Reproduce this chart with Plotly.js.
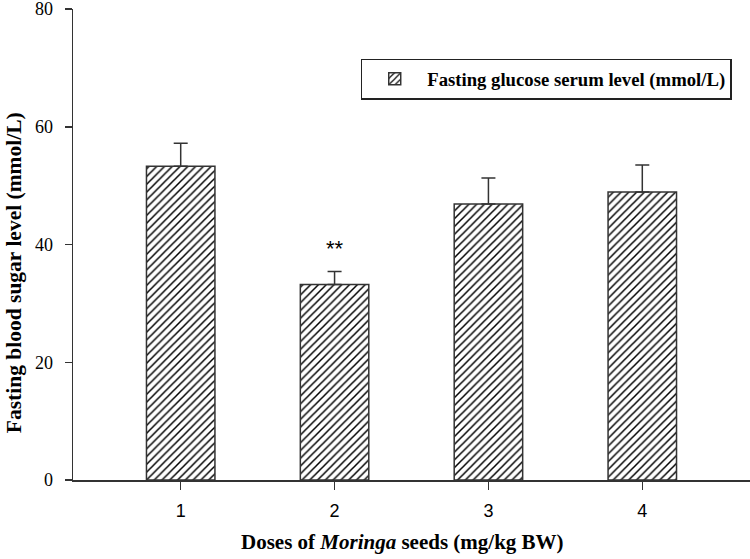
<!DOCTYPE html>
<html>
<head>
<meta charset="utf-8">
<script src="https://cdn.plot.ly/plotly-3.0.1.min.js"></script>
<style>html,body{margin:0;padding:0;background:#fff;}#chart{width:750px;height:559px;}</style>
</head>
<body>
<div id="chart"></div>
<script>
const doses = [1, 2, 3, 4];
const glucose = [53.3, 33.2, 46.9, 48.9];
const glucoseErr = [3.9, 2.2, 4.4, 4.6];
const seriesName = "Fasting glucose serum level (mmol/L)";
const tickLabels = ["1", "2", "3", "4"];
const yTicks = [0, 20, 40, 60, 80];
const sigLabel = "**";
const sigDose = 2;

const serif = "Liberation Serif, Times New Roman, serif";
const sans = "Liberation Sans, Arial, sans-serif";

const trace = {
  type: "bar",
  x: doses,
  y: glucose,
  name: seriesName,
  width: 0.445,
  marker: {
    color: "#c8c8c8",
    line: {color: "#333333", width: 1.5},
    pattern: {shape: "/", fgcolor: "#000000", size: 5.5, solidity: 0.27}
  },
  error_y: {
    type: "data",
    symmetric: false,
    array: glucoseErr,
    arrayminus: glucoseErr.map(() => 0),
    color: "#333333",
    thickness: 1.5,
    width: 7
  },
  showlegend: true
};

const layout = {
  width: 750,
  height: 559,
  margin: {l: 73, r: 0, t: 9, b: 79},
  paper_bgcolor: "#ffffff",
  plot_bgcolor: "#ffffff",
  showlegend: true,
  xaxis: {
    range: [0.3, 4.7],
    tickvals: doses,
    ticktext: tickLabels,
    showgrid: false,
    zeroline: false,
    showline: true,
    linecolor: "#333333",
    linewidth: 1.5,
    ticks: "outside",
    ticklen: 8,
    tickwidth: 1.5,
    tickcolor: "#333333",
    ticklabelstandoff: 6,
    tickfont: {family: sans, size: 18, color: "#000"},
    fixedrange: true
  },
  yaxis: {
    range: [0, 80],
    tickvals: yTicks,
    showgrid: false,
    zeroline: false,
    showline: true,
    linecolor: "#333333",
    linewidth: 1.5,
    ticks: "outside",
    ticklen: 7,
    tickwidth: 1.5,
    tickcolor: "#333333",
    ticklabelstandoff: 8,
    ticklabeloverflow: "allow",
    tickfont: {family: serif, size: 18, color: "#000"},
    fixedrange: true
  },
  legend: {
    x: 0.425,
    y: 0.8945,
    xanchor: "left",
    yanchor: "top",
    bgcolor: "#ffffff",
    bordercolor: "#222222",
    borderwidth: 1.5,
    itemwidth: 55,
    font: {family: serif, size: 18.7, color: "#000", weight: "bold"}
  },
  annotations: [
    {
      text: sigLabel,
      x: sigDose,
      y: glucose[sigDose - 1] + glucoseErr[sigDose - 1] + 4,
      xref: "x", yref: "y",
      showarrow: false,
      font: {family: sans, size: 22, color: "#000"}
    },
    {
      text: "<b>Fasting blood sugar level (mmol/L)</b>",
      x: -0.088, y: 0.44,
      xref: "paper", yref: "paper",
      xanchor: "center", yanchor: "middle",
      textangle: -90,
      showarrow: false,
      font: {family: serif, size: 21.5, color: "#000"}
    },
    {
      text: "<b>Doses of <i>Moringa</i> seeds (mg/kg BW)</b>",
      x: 0.486, y: -0.131,
      xref: "paper", yref: "paper",
      xanchor: "center", yanchor: "middle",
      showarrow: false,
      font: {family: serif, size: 21, color: "#000"}
    }
  ]
};

Plotly.newPlot("chart", [trace], layout, {displayModeBar: false, staticPlot: true});
</script>
</body>
</html>
